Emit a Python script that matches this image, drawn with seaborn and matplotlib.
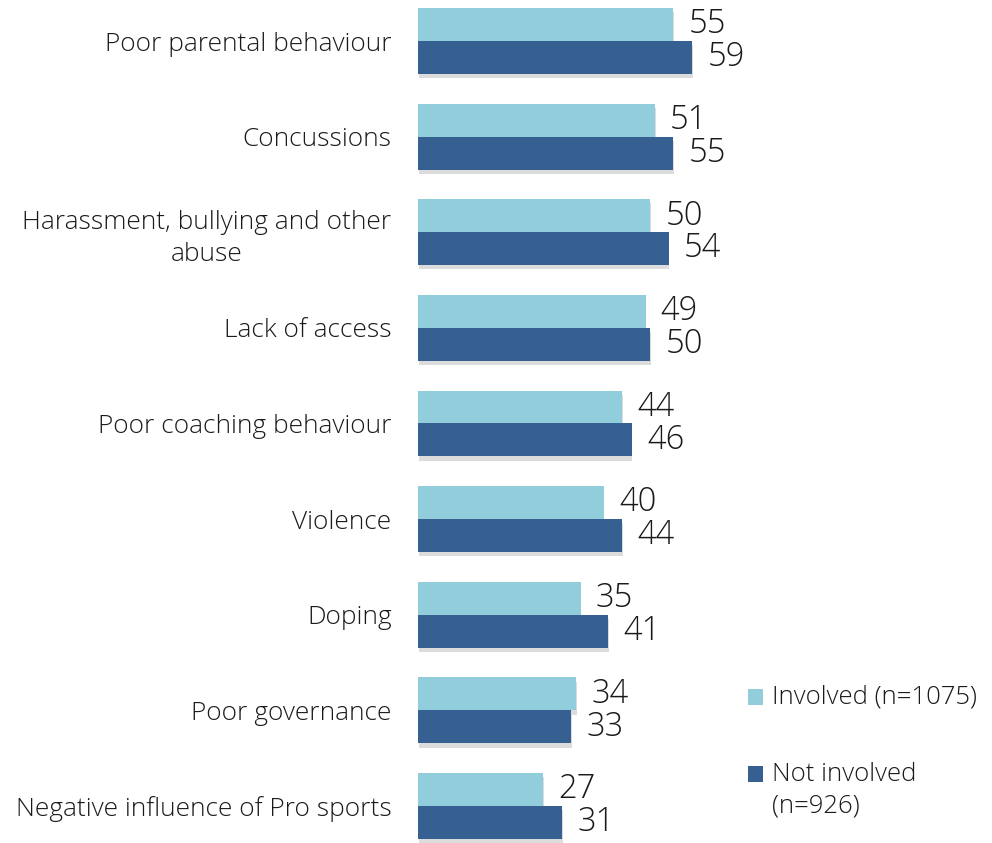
import matplotlib
matplotlib.use("Agg")
import matplotlib.pyplot as plt
import matplotlib.patheffects as pe
from matplotlib.patches import Rectangle
import pandas as pd
import seaborn as sns

categories = [
    "Poor parental behaviour",
    "Concussions",
    "Harassment, bullying and other\nabuse",
    "Lack of access",
    "Poor coaching behaviour",
    "Violence",
    "Doping",
    "Poor governance",
    "Negative influence of Pro sports",
]
involved = [55, 51, 50, 49, 44, 40, 35, 34, 27]
not_involved = [59, 55, 54, 50, 46, 44, 41, 33, 31]
series_names = ["Involved (n=1075)", "Not involved\n(n=926)"]
colors = ["#92CDDC", "#366092"]

df = pd.DataFrame({
    "issue": categories * 2,
    "value": involved + not_involved,
    "group": [series_names[0]] * len(categories) + [series_names[1]] * len(categories),
})

sns.set_theme(style="white")
plt.rcParams["font.family"] = ["Open Sans", "DejaVu Sans"]
text_color = "#1a1a1a"

W, H = 992, 843
fig = plt.figure(figsize=(W / 100, H / 100), dpi=100)
ax = fig.add_axes([418 / W, 0.0, (735 - 418) / W, 1.0])

sns.barplot(
    data=df, y="issue", x="value", hue="group", order=categories,
    hue_order=series_names, palette=colors, orient="h", width=0.69,
    saturation=1, dodge=True, legend=False, ax=ax, linewidth=0,
)

shadow = [pe.SimplePatchShadow(offset=(0.5, -3), shadow_rgbFace="#8c8c8c", alpha=0.3), pe.Normal()]
for patch in ax.patches:
    patch.set_path_effects(shadow)

for container in ax.containers:
    ax.bar_label(container, fmt="%d", padding=11, fontsize=23.5, color=text_color,
                 fontweight="light")

ax.set_xlim(0, (735 - 418) / 4.644)
ax.set_ylim(8.387, -0.4288)
ax.set_xlabel("")
ax.set_ylabel("")
ax.set_xticks([])
ax.tick_params(axis="y", length=0, pad=19, labelsize=18.9, labelcolor=text_color)
for lbl in ax.get_yticklabels():
    lbl.set_multialignment("center")
    lbl.set_linespacing(1.35)
    lbl.set_fontweight("light")
for s in ax.spines.values():
    s.set_visible(False)

# Legend: square marker aligned with the first line of each entry
legend_rows = [697, 774]
legend_text_y = [697, 790]
for color, name, y_mark, y_text in zip(colors, series_names, legend_rows, legend_text_y):
    fig.add_artist(Rectangle((748 / W, 1 - (y_mark + 8) / H), 15 / W, 16 / H,
                             transform=fig.transFigure, facecolor=color, edgecolor="none"))
    fig.text(772 / W, 1 - y_text / H, name, ha="left", va="center", fontsize=18.5,
             fontweight="light", color=text_color, linespacing=1.35)

fig.savefig("out.png", dpi=100)
